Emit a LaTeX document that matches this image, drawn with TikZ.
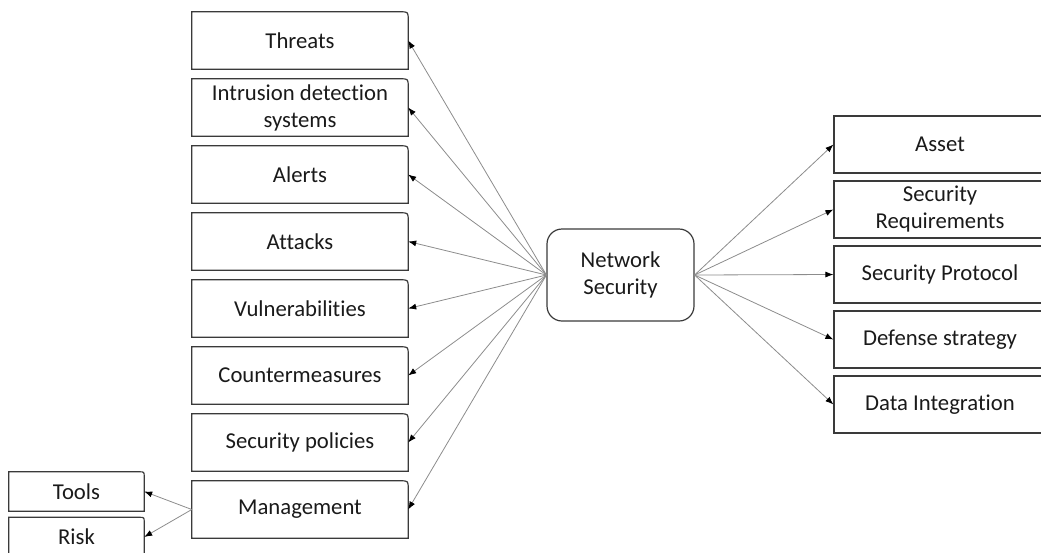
\documentclass[tikz,border=0pt]{standalone}
\usepackage{fontspec}
\setmainfont{Carlito}[Ligatures={NoCommon}]
\usetikzlibrary{arrows.meta}
\definecolor{boxline}{HTML}{3A3A3A}
\definecolor{linkgray}{HTML}{8C8C8C}
\definecolor{txtcol}{HTML}{1A1A1A}

\begin{document}
\begin{tikzpicture}[x=1pt,y=-1pt,
    txt/.style={text=txtcol,align=center,inner sep=0pt,font=\fontsize{22.7}{27}\selectfont},
    lbox/.style={txt,minimum width=216pt,minimum height=57pt},
    rbox/.style={txt,draw=boxline,line width=1.2pt,minimum width=212pt,minimum height=57pt},
    sbox/.style={txt,minimum width=135pt,minimum height=39pt},
    hub/.style={txt,draw=boxline,line width=1.2pt,rounded corners=15pt,minimum width=147pt,minimum height=92pt},
    link/.style={draw=linkgray,line width=0.8pt,-{Latex[length=8pt,width=6pt,color=black]}}]
        \clip (0,0) rectangle (1041,552);
        \pgfmathsetmacro{\lx}{300}
        \pgfmathsetmacro{\rx}{940}
        \node[hub] (ns) at (620.5,275) {Network\\Security};
        \foreach \name/\label [count=\i from 0] in {threats/Threats, ids/{Intrusion detection\\systems}, alerts/Alerts, attacks/Attacks, vuln/Vulnerabilities, counter/Countermeasures, policies/Security policies, mgmt/Management}
            \node[lbox] (\name) at (\lx,40.5+67*\i) {\label};
        \foreach \name/\label [count=\i from 0] in {asset/Asset, req/{Security\\Requirements}, protocol/Security Protocol, defense/Defense strategy, data/Data Integration}
            \node[rbox] (\name) at (\rx,144.5+65*\i) {\label};
        \node[sbox] (tools) at (76.5,491.5) {Tools};
        \node[sbox] (risk) at (76.5,537) {Risk};
        % outlines with only the top right corner rounded
        \foreach \name/\r in {threats/8, ids/8, alerts/8, attacks/8, vuln/8, counter/8, policies/8, mgmt/8, tools/5, risk/5}
            \draw[boxline,line width=1.2pt] (\name.south west) -- (\name.north west) -- ([xshift=-\r pt]\name.north east) .. controls (\name.north east) .. ([yshift=-\r pt]\name.north east) -- (\name.south east) -- cycle;
        \foreach \name in {threats, ids, alerts, attacks, vuln, counter, policies, mgmt}
            \draw[link] (ns.west) -- (\name.east);
        \foreach \name in {asset, req, protocol, defense, data}
            \draw[link] (ns.east) -- (\name.west);
        \draw[link] (mgmt.west) -- (tools.east);
        \draw[link] (mgmt.west) -- (risk.east);
    \end{tikzpicture}
\end{document}
